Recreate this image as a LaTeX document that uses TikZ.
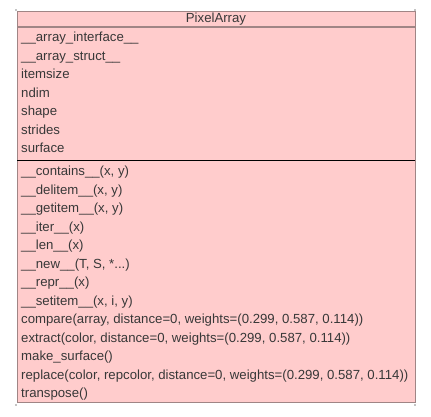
\documentclass[tikz,border=0pt]{standalone}
\usepackage{fontspec}
\setmainfont{Liberation Sans}
\usepackage{tikz}
\usetikzlibrary{calc}

\definecolor{classfill}{HTML}{FFCCCC}
\definecolor{classline}{HTML}{A08585}
\definecolor{membertext}{HTML}{383838}

\tikzset{
    member/.style={anchor=west, inner sep=0pt, text height=9.5pt, text depth=2.5pt,
        font=\fontsize{13.2}{15}\selectfont, text=membertext},
    classbox/.style={draw=classline, fill=classfill, line width=0.9pt},
}

\begin{document}
\begin{tikzpicture}[x=1pt,y=-1pt]
    \useasboundingbox (0,0) rectangle (431,416);

    % Corner marks
    \fill (16,10) circle (0.6);
    \fill (415,10) circle (0.6);
    \fill (16,405) circle (0.6);
    \fill (415,405) circle (0.6);

    % Class boxes
    \draw[classbox] (17,11) rectangle (415,26.2);
    \draw[classbox] (17,27.4) rectangle (415,402);

    % Class name
    \node[member, anchor=center] (title) at (216,18.8) {PixelArray};

    % Attributes
    \node[member] (arrayinterface) at (21,38) {\_\_array\_interface\_\_};
    \node[member] (arraystruct) at (21,56.5) {\_\_array\_struct\_\_};
    \node[member] (itemsize) at (21,75) {itemsize};
    \node[member] (ndim) at (21,93.5) {ndim};
    \node[member] (shape) at (21,112) {shape};
    \node[member] (strides) at (21,130.5) {strides};
    \node[member] (surface) at (21,149) {surface};

    % Separator
    \draw[line width=1.8pt] (17,160.5) -- (415,160.5);

    % Methods
    \node[member] (contains) at (21,172) {\_\_contains\_\_(x, y)};
    \node[member] (delitem) at (21,190.5) {\_\_delitem\_\_(x, y)};
    \node[member] (getitem) at (21,209) {\_\_getitem\_\_(x, y)};
    \node[member] (iter) at (21,227.5) {\_\_iter\_\_(x)};
    \node[member] (len) at (21,246) {\_\_len\_\_(x)};
    \node[member] (new) at (21,264.5) {\_\_new\_\_(T, S, *...)};
    \node[member] (repr) at (21,283) {\_\_repr\_\_(x)};
    \node[member] (setitem) at (21,301.5) {\_\_setitem\_\_(x, i, y)};
    \node[member] (compare) at (21,320) {compare(array, distance=0, weights=(0.299, 0.587, 0.114))};
    \node[member] (extract) at (21,338.5) {extract(color, distance=0, weights=(0.299, 0.587, 0.114))};
    \node[member] (makesurface) at (21,357) {make\_surface()};
    \node[member] (replace) at (21,375.5) {replace(color, repcolor, distance=0, weights=(0.299, 0.587, 0.114))};
    \node[member] (transpose) at (21,394) {transpose()};
\end{tikzpicture}
\end{document}
